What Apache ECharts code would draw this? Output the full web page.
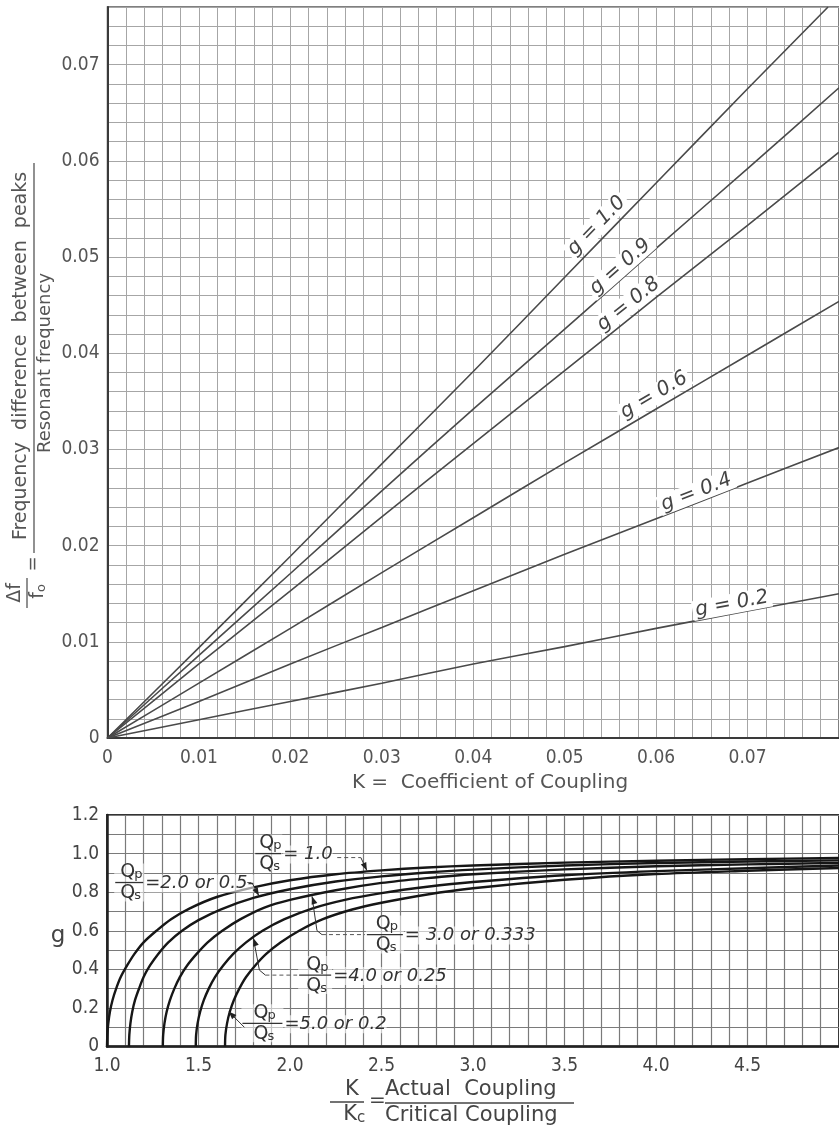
<!DOCTYPE html>
<html><head><meta charset="utf-8">
<script src="https://cdn.jsdelivr.net/npm/echarts@6/dist/echarts.min.js"></script>
<style>html,body{margin:0;padding:0;background:#fff;}#c{width:839px;height:1127px;}</style>
</head><body><div id="c"></div>
<script>
// ---------------- data ----------------
// Top chart: Δf/f0 vs K for several g
const topK     = [0, 0.01, 0.02, 0.03, 0.04, 0.05, 0.06, 0.07, 0.08];
const topKg10  = [0, 0.01, 0.02, 0.03, 0.04, 0.05, 0.06, 0.07, 0.0788];
const dfG10 = [0, 0.0094, 0.0189, 0.0285, 0.0381, 0.0479, 0.0577, 0.0675, 0.0760];
const dfG09 = [0, 0.0086, 0.0171, 0.0257, 0.0342, 0.0425, 0.0509, 0.0592, 0.0676];
const dfG08 = [0, 0.0077, 0.0153, 0.0230, 0.0306, 0.0382, 0.0458, 0.0533, 0.0609];
const dfG06 = [0, 0.0057, 0.0114, 0.0172, 0.0229, 0.0286, 0.0342, 0.0398, 0.0454];
const dfG04 = [0, 0.0038, 0.0077, 0.0115, 0.0153, 0.0191, 0.0228, 0.0265, 0.0302];
const dfG02 = [0, 0.0019, 0.0038, 0.0057, 0.0077, 0.0095, 0.0114, 0.0132, 0.0150];
const gNames = ['g = 1.0', 'g = 0.9', 'g = 0.8', 'g = 0.6', 'g = 0.4', 'g = 0.2'];
const topXTickLabels = ['0', '0.01', '0.02', '0.03', '0.04', '0.05', '0.06', '0.07'];
const topYTickLabels = ['0', '0.01', '0.02', '0.03', '0.04', '0.05', '0.06', '0.07'];

// Bottom chart: g vs K/Kc for several Qp/Qs
const qA_x = [1.0, 1.002, 1.007, 1.016, 1.03, 1.05, 1.075, 1.11, 1.15, 1.2, 1.27, 1.35, 1.45, 1.6, 1.8, 2.0, 2.25, 2.5, 2.75, 3.0, 3.5, 4.0, 4.5, 5.0];
const qA_g = [0, 0.06, 0.12, 0.18, 0.24, 0.30, 0.36, 0.42, 0.48, 0.54, 0.60, 0.66, 0.715, 0.775, 0.825, 0.862, 0.893, 0.913, 0.928, 0.938, 0.953, 0.963, 0.971, 0.977];
const qB_x = [1.12, 1.122, 1.128, 1.138, 1.153, 1.175, 1.20, 1.235, 1.28, 1.335, 1.41, 1.5, 1.62, 1.8, 2.0, 2.25, 2.5, 2.75, 3.0, 3.5, 4.0, 4.5, 5.0];
const qB_g = [0, 0.06, 0.12, 0.18, 0.24, 0.30, 0.36, 0.42, 0.48, 0.54, 0.60, 0.655, 0.71, 0.77, 0.815, 0.855, 0.882, 0.902, 0.917, 0.938, 0.951, 0.959, 0.965];
const qC_x = [1.305, 1.307, 1.314, 1.326, 1.344, 1.368, 1.398, 1.438, 1.49, 1.55, 1.63, 1.73, 1.86, 2.0, 2.25, 2.5, 2.75, 3.0, 3.5, 4.0, 4.5, 5.0];
const qC_g = [0, 0.06, 0.12, 0.18, 0.24, 0.30, 0.36, 0.42, 0.48, 0.54, 0.60, 0.66, 0.72, 0.76, 0.81, 0.848, 0.873, 0.893, 0.918, 0.934, 0.944, 0.952];
const qD_x = [1.485, 1.487, 1.495, 1.509, 1.529, 1.556, 1.59, 1.635, 1.69, 1.76, 1.85, 1.97, 2.12, 2.3, 2.5, 2.75, 3.0, 3.5, 4.0, 4.5, 5.0];
const qD_g = [0, 0.06, 0.12, 0.18, 0.24, 0.30, 0.36, 0.42, 0.48, 0.54, 0.60, 0.66, 0.715, 0.76, 0.795, 0.828, 0.853, 0.888, 0.909, 0.924, 0.938];
const qE_x = [1.645, 1.647, 1.656, 1.671, 1.693, 1.723, 1.76, 1.81, 1.87, 1.95, 2.05, 2.18, 2.34, 2.5, 2.75, 3.0, 3.5, 4.0, 4.5, 5.0];
const qE_g = [0, 0.06, 0.12, 0.18, 0.24, 0.30, 0.36, 0.42, 0.48, 0.54, 0.60, 0.66, 0.71, 0.745, 0.788, 0.82, 0.864, 0.894, 0.911, 0.925];
const qNames = ['= 1.0', '=2.0 or 0.5-', '= 3.0 or 0.333', '=4.0 or 0.25', '=5.0 or 0.2'];
const botXTickLabels = ['1.0', '1.5', '2.0', '2.5', '3.0', '3.5', '4.0', '4.5'];
const botYTickLabels = ['0', '0.2', '0.4', '0.6', '0.8', '1.0', '1.2'];

// ---------------- chart ----------------
const TICKFONT = "'Liberation Sans Narrow','DejaVu Sans Condensed',sans-serif";
const TFONT = "'DejaVu Sans',sans-serif";
const chart = echarts.init(document.getElementById('c'));
const zip = (xs, ys) => xs.map((x, i) => [x, ys[i]]);
const near = (v, step) => Math.abs(v / step - Math.round(v / step)) < 1e-6;

function topSeries(name, xs, ys) {
  return { name, type: 'line', xAxisIndex: 0, yAxisIndex: 0, data: zip(xs, ys), showSymbol: false,
    smooth: 0.2, clip: true, lineStyle: { color: '#4a4a4a', width: 1.6 }, z: 5, silent: true };
}
function botSeries(name, xs, ys) {
  return { name, type: 'line', xAxisIndex: 1, yAxisIndex: 1, data: zip(xs, ys), showSymbol: false,
    smooth: 0.3, clip: true, lineStyle: { color: '#161616', width: 2.4 }, z: 5, silent: true };
}

const option = {
  animation: false,
  backgroundColor: '#fff',
  grid: [
    { left: 107.5, top: 7, width: 733.5, height: 731, show: true, borderColor: '#555', borderWidth: 1.5, backgroundColor: 'transparent' },
    { left: 107, top: 815, width: 733, height: 231.5, show: true, borderColor: '#333', borderWidth: 2, backgroundColor: 'transparent' }
  ],
  xAxis: [
    { type: 'value', gridIndex: 0, min: 0, max: 0.08, interval: 0.002,
      axisLine: { show: true, onZero: false, lineStyle: { color: '#3a3a3a', width: 2 } },
      axisTick: { show: false },
      splitLine: { show: true, lineStyle: { color: '#a6a6a6', width: 1 } },
      axisLabel: { showMaxLabel: false, margin: 11, color: '#555', fontSize: 19, fontFamily: TICKFONT,
        formatter: v => near(v, 0.01) ? (topXTickLabels[Math.round(v / 0.01)] || '') : '' } },
    { type: 'value', gridIndex: 1, min: 1.0, max: 5.0, interval: 0.1,
      axisLine: { show: true, onZero: false, lineStyle: { color: '#222', width: 2.5 } },
      axisTick: { show: false },
      splitLine: { show: true, lineStyle: { color: '#7a7a7a', width: 1.2 } },
      axisLabel: { showMaxLabel: false, margin: 10, color: '#444', fontSize: 19, fontFamily: TICKFONT,
        formatter: v => near(v - 1, 0.5) ? (botXTickLabels[Math.round((v - 1) / 0.5)] || '') : '' } }
  ],
  yAxis: [
    { type: 'value', gridIndex: 0, min: 0, max: 0.076, interval: 0.002,
      axisLine: { show: true, onZero: false, lineStyle: { color: '#3a3a3a', width: 2 } },
      axisTick: { show: false },
      splitLine: { show: true, lineStyle: { color: '#a6a6a6', width: 1 } },
      axisLabel: { showMaxLabel: false, margin: 8, color: '#555', fontSize: 19, fontFamily: TICKFONT,
        formatter: v => near(v, 0.01) ? (topYTickLabels[Math.round(v / 0.01)] || '') : '' } },
    { type: 'value', gridIndex: 1, min: 0, max: 1.2, interval: 0.1,
      axisLine: { show: true, onZero: false, lineStyle: { color: '#222', width: 2.5 } },
      axisTick: { show: false },
      splitLine: { show: true, lineStyle: { color: '#7a7a7a', width: 1.2 } },
      axisLabel: { showMaxLabel: true, margin: 8, color: '#444', fontSize: 19, fontFamily: TICKFONT,
        formatter: v => near(v, 0.2) ? (botYTickLabels[Math.round(v / 0.2)] || '') : '' } }
  ],
  series: [
    topSeries(gNames[0], topKg10, dfG10),
    topSeries(gNames[1], topK, dfG09),
    topSeries(gNames[2], topK, dfG08),
    topSeries(gNames[3], topK, dfG06),
    topSeries(gNames[4], topK, dfG04),
    topSeries(gNames[5], topK, dfG02),
    botSeries('1.0', qA_x, qA_g),
    botSeries('2.0', qB_x, qB_g),
    botSeries('3.0', qC_x, qC_g),
    botSeries('4.0', qD_x, qD_g),
    botSeries('5.0', qE_x, qE_g)
  ]
};
chart.setOption(option);

// ---------------- annotations ----------------
const P = (g, x, y) => chart.convertToPixel({ gridIndex: g }, [x, y]);
function interp(xs, ys, x) {
  for (let i = 1; i < xs.length; i++) if (x <= xs[i]) {
    const t = (x - xs[i - 1]) / (xs[i] - xs[i - 1]); return ys[i - 1] + t * (ys[i] - ys[i - 1]);
  }
  return ys[ys.length - 1];
}
const gfx = [];
function txt(x, y, s, font, opt) {
  return Object.assign({ type: 'text', x, y, z: 100, silent: true,
    style: Object.assign({ text: s, font, fill: '#444', align: 'left', verticalAlign: 'middle', textAlign: 'left', textVerticalAlign: 'middle' }, opt || {}) });
}
function seg(x1, y1, x2, y2, dash, w, col) {
  return { type: 'line', z: 100, silent: true, shape: { x1, y1, x2, y2 },
    style: { stroke: col || '#333', lineWidth: w || 1.2, lineDash: dash ? [4, 3] : null } };
}

// labels on the top chart lines
const topXs = [topKg10, topK, topK, topK, topK, topK];
const topYs = [dfG10, dfG09, dfG08, dfG06, dfG04, dfG02];
const labK = [0.0545, 0.0568, 0.0578, 0.0605, 0.0648, 0.0685];
const labOff = [13, 10, 12, 13, 10, 10];
topYs.forEach((ys, i) => {
  const k = labK[i], v = interp(topXs[i], ys, k);
  const p1 = P(0, k, v), p2 = P(0, k + 0.005, interp(topXs[i], ys, k + 0.005));
  const a = Math.atan2(p1[1] - p2[1], p2[0] - p1[0]);
  const cx = p1[0] - Math.sin(a) * labOff[i], cy = p1[1] - Math.cos(a) * labOff[i];
  gfx.push({ type: 'text', x: cx, y: cy, rotation: a, z: 100, silent: true,
    style: { text: gNames[i], font: "italic 20px " + TFONT, fill: '#444', align: 'center', verticalAlign: 'middle',
      textAlign: 'center', textVerticalAlign: 'middle', backgroundColor: '#fff', padding: [0, 3] } });
});

// top y-axis title (rotated fraction)
gfx.push({ type: 'group', x: 34, y: 358, rotation: Math.PI / 2, silent: true, children: [
  seg(-195, 0, 195, 0, false, 1.3, '#555'),
  txt(2, -3, 'Frequency  difference  between  peaks', "19px " + TFONT, { align: 'center', textAlign: 'center', verticalAlign: 'bottom', textVerticalAlign: 'bottom', fill: '#555' }),
  txt(-5, 2, 'Resonant frequency', "18px " + TFONT, { align: 'center', textAlign: 'center', verticalAlign: 'top', textVerticalAlign: 'top', fill: '#555' }),
  txt(-206, -1, '=', "18px " + TFONT, { align: 'center', textAlign: 'center', fill: '#555' }),
  seg(-250, -7, -220, -7, false, 1.3, '#555'),
  txt(-235, -9, 'Δf', "19px " + TFONT, { align: 'center', textAlign: 'center', verticalAlign: 'bottom', textVerticalAlign: 'bottom', fill: '#555' }),
  txt(-234, -5, 'f', "19px " + TFONT, { align: 'right', textAlign: 'right', verticalAlign: 'top', textVerticalAlign: 'top', fill: '#555' }),
  txt(-234, 1, 'o', "13px " + TFONT, { align: 'left', textAlign: 'left', verticalAlign: 'top', textVerticalAlign: 'top', fill: '#555' })
]});

// top x-axis title
gfx.push(txt(490, 783, 'K =  Coefficient of Coupling', "20px " + TFONT, { align: 'center', textAlign: 'center', fill: '#555' }));

// bottom y-axis title
gfx.push(txt(58, 936, 'g', "23px " + TFONT, { align: 'center', textAlign: 'center', fill: '#444' }));

// bottom x-axis title (fraction)
gfx.push(seg(330, 1102, 364, 1102, false, 1.3, '#444'));
gfx.push(txt(352, 1100, 'K', "21px " + TFONT, { align: 'center', textAlign: 'center', verticalAlign: 'bottom', textVerticalAlign: 'bottom' }));
gfx.push(txt(357, 1104, 'K', "21px " + TFONT, { align: 'right', textAlign: 'right', verticalAlign: 'top', textVerticalAlign: 'top' }));
gfx.push(txt(357, 1111, 'c', "15px " + TFONT, { verticalAlign: 'top', textVerticalAlign: 'top' }));
gfx.push(txt(369, 1101, '=', "20px " + TFONT));
gfx.push(seg(385, 1103, 574, 1103, false, 1.3, '#444'));
gfx.push(txt(385, 1100, 'Actual  Coupling', "21px " + TFONT, { verticalAlign: 'bottom', textVerticalAlign: 'bottom' }));
gfx.push(txt(385, 1105, 'Critical Coupling', "21px " + TFONT, { verticalAlign: 'top', textVerticalAlign: 'top' }));

// bottom chart Qp/Qs annotations
function qfrac(x0, y0, label, barW) {
  const w = barW || 28;
  const f = "19px " + TFONT, sf = "13px " + TFONT;
  gfx.push({ type: 'rect', z: 99, silent: true, shape: { x: x0 - 1, y: y0 - 19, width: w + 2, height: 38 }, style: { fill: 'rgba(255,255,255,0.55)' } });
  gfx.push(seg(x0, y0, x0 + w, y0, false, 1.3, '#333'));
  gfx.push(txt(x0 + w / 2 - 9, y0 - 1, 'Q', f, { verticalAlign: 'bottom', textVerticalAlign: 'bottom', fill: '#333' }));
  gfx.push(txt(x0 + w / 2 + 5, y0 - 1, 'p', sf, { verticalAlign: 'bottom', textVerticalAlign: 'bottom', fill: '#333' }));
  gfx.push(txt(x0 + w / 2 - 9, y0 + 1, 'Q', f, { verticalAlign: 'top', textVerticalAlign: 'top', fill: '#333' }));
  gfx.push(txt(x0 + w / 2 + 5, y0 + 7, 's', sf, { verticalAlign: 'top', textVerticalAlign: 'top', fill: '#333' }));
  gfx.push(txt(x0 + w + 2, y0 + 1, label, "italic 18px " + TFONT, { fill: '#333', backgroundColor: 'rgba(255,255,255,0.6)' }));
}
function arrowHead(tx, ty, fx, fy) {
  const a = Math.atan2(ty - fy, tx - fx), L = 8, W = 3;
  const bx = tx - Math.cos(a) * L, by = ty - Math.sin(a) * L;
  gfx.push({ type: 'polygon', z: 101, silent: true, shape: { points: [[tx, ty], [bx - Math.sin(a) * W, by + Math.cos(a) * W], [bx + Math.sin(a) * W, by - Math.cos(a) * W]] }, style: { fill: '#222' } });
}
const B = (x, y) => P(1, x, y);
// 1.0
{ const a = B(1.81, 1.0); qfrac(a[0], a[1], qNames[0], 26);
  const t = B(2.42, interp(qA_x, qA_g, 2.42));
  gfx.push(seg(a[0] + 82, a[1] + 4, t[0] - 6, a[1] + 4, true, 1, '#555'));
  gfx.push(seg(t[0] - 6, a[1] + 4, t[0], t[1] - 1, false, 1, '#333'));
  arrowHead(t[0], t[1] - 1, t[0] - 6, a[1] + 4); }
// 2.0 or 0.5
{ const a = B(1.045, 0.85); qfrac(a[0], a[1], qNames[1], 28);
  const t = B(1.83, interp(qB_x, qB_g, 1.83));
  gfx.push(seg(a[0] + 132, a[1], t[0] - 7, a[1], true, 1, '#555'));
  gfx.push(seg(t[0] - 7, a[1], t[0], t[1] - 1, false, 1, '#333'));
  arrowHead(t[0], t[1] - 1, t[0] - 7, a[1]); }
// 3.0 or 0.333
{ const a = B(2.42, 0.58); qfrac(a[0], a[1], qNames[2], 36);
  const t = B(2.12, interp(qC_x, qC_g, 2.12));
  gfx.push(seg(t[0], t[1] + 1, t[0] + 5, a[1] - 4, false, 1, '#333'));
  gfx.push(seg(t[0] + 5, a[1] - 4, t[0] + 10, a[1], false, 1, '#333'));
  gfx.push(seg(t[0] + 10, a[1], a[0] - 2, a[1], true, 1, '#555'));
  arrowHead(t[0], t[1] + 1, t[0] + 3, t[1] + 10); }
// 4.0 or 0.25
{ const a = B(2.05, 0.37); qfrac(a[0], a[1], qNames[3], 32);
  const t = B(1.8, interp(qD_x, qD_g, 1.8));
  gfx.push(seg(t[0], t[1] + 1, t[0] + 6, a[1] - 5, false, 1, '#333'));
  gfx.push(seg(t[0] + 6, a[1] - 5, t[0] + 12, a[1], false, 1, '#333'));
  gfx.push(seg(t[0] + 12, a[1], a[0] - 2, a[1], true, 1, '#555'));
  arrowHead(t[0], t[1] + 1, t[0] + 3, t[1] + 10); }
// 5.0 or 0.2
{ const a = B(1.74, 0.12); qfrac(a[0], a[1], qNames[4], 40);
  const t = B(1.67, interp(qE_x, qE_g, 1.67));
  gfx.push(seg(t[0] + 1, t[1] + 1, a[0] + 2, a[1] + 4, false, 1, '#333'));
  arrowHead(t[0] - 1, t[1] - 1, t[0] + 8, t[1] + 8); }

chart.setOption({ graphic: gfx });
</script></body></html>
